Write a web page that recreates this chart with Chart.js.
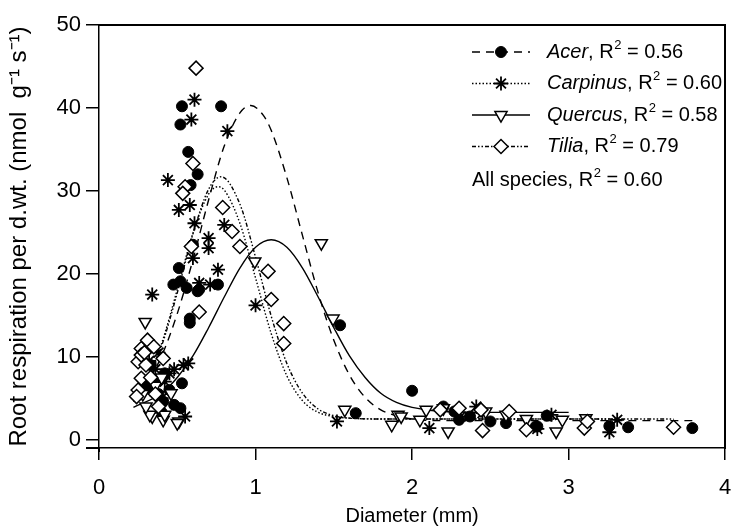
<!DOCTYPE html>
<html>
<head>
<meta charset="utf-8">
<script src="https://cdn.jsdelivr.net/npm/chart.js@4.4.0/dist/chart.umd.min.js"></script>
<style>
  html, body { margin: 0; padding: 0; background: #fff; }
  #wrap { position: relative; width: 734px; height: 531px; }
</style>
</head>
<body>
<div id="wrap"><canvas id="chart" width="734" height="531"></canvas></div>
<script>
// measured points [diameter mm, respiration]
const acerPts = [[0.53,40.2],[0.78,40.2],[0.52,38.0],[0.57,34.7],[0.63,32.0],[0.585,30.7],[0.60,23.5],[0.51,20.7],
  [0.475,18.7],[0.52,19.1],[0.56,18.3],[0.64,18.1],[0.63,17.9],[0.76,18.7],[0.58,14.6],[0.58,14.1],[0.53,6.8],
  [0.52,3.8],[0.41,4.6],[0.35,7.0],[0.38,5.5],[0.42,8.0],[0.45,6.0],[0.40,3.3],[0.48,4.2],[0.33,9.0],[0.30,6.5],
  [1.54,13.8],[2.0,5.9],[1.64,3.2],[2.2,4.0],[2.27,3.4],[2.30,2.4],[2.37,2.8],[2.5,2.2],[2.6,2.0],[2.79,1.6],
  [2.80,1.6],[2.86,2.9],[3.26,1.65],[3.38,1.5],[3.79,1.4]];
const carpinusPts = [[0.61,41.0],[0.59,38.6],[0.82,37.2],[0.44,31.3],[0.51,27.7],[0.58,28.3],[0.61,26.1],[0.80,25.9],
  [0.70,24.3],[0.70,23.1],[0.60,21.9],[0.76,20.5],[0.64,18.9],[0.71,18.7],[0.34,17.5],[1.0,16.2],[0.57,9.2],
  [0.54,9.0],[0.55,2.8],[0.30,11.0],[0.32,9.5],[0.36,8.5],[0.38,10.5],[0.42,7.0],[0.45,8.0],[0.48,8.5],[0.33,6.0],
  [0.40,5.0],[1.52,2.2],[2.11,1.4],[2.31,2.8],[2.41,4.0],[2.45,3.2],[2.80,1.3],[2.89,3.0],[3.26,0.9],[3.31,2.4]];
const quercusPts = [[0.295,14.2],[0.34,2.8],[0.41,2.4],[0.51,2.2],[0.46,5.6],[0.325,3.0],[0.42,3.0],[0.50,2.0],
  [0.28,5.5],[0.36,6.5],[0.40,7.5],[0.30,4.0],[0.995,21.5],[1.42,23.7],[1.495,14.6],[1.57,3.6],[1.91,3.0],
  [1.87,1.8],[2.09,3.6],[2.05,2.4],[2.23,1.0],[1.93,2.8],[2.47,3.4],[2.73,2.5],[2.92,1.0],[3.11,2.6],[2.96,2.4],
  [2.20,3.8],[2.60,3.0]];
const tiliaPts = [[0.62,44.8],[0.60,33.3],[0.55,30.5],[0.535,29.7],[0.79,28.0],[0.85,25.1],[0.90,23.3],[1.08,20.3],
  [1.10,16.9],[1.18,14.0],[1.18,11.6],[0.64,15.4],[0.59,23.3],[0.27,11.0],[0.25,9.4],[0.27,7.4],[0.25,6.0],
  [0.24,5.2],[0.27,10.2],[0.30,9.0],[0.33,7.5],[0.36,5.5],[0.38,4.0],[0.31,12.0],[0.29,10.5],[0.35,11.2],
  [0.41,9.8],[2.18,3.6],[2.30,3.8],[2.44,3.6],[2.45,1.1],[2.62,3.4],[2.73,1.2],[3.10,1.4],[3.12,2.2],[3.67,1.5]];

// fitted curves
const acerCurveX = [0.22,0.3,0.4,0.5,0.6,0.7,0.8,0.9,0.97,1.05,1.1,1.2,1.3,1.4,1.5,1.6,1.7,1.8,1.9,2.0,2.2,2.6,3.2,3.79];
const acerCurveY = [4.7,6.6,10.1,15.2,21.7,28.9,35.4,39.4,40.3,39.1,37.3,31.6,24.6,17.7,12.0,7.8,5.1,3.6,2.9,2.5,2.3,2.3,2.3,2.3];
const carpinusCurveX = [0.22,0.3,0.4,0.5,0.6,0.7,0.76,0.8,0.9,1.0,1.1,1.2,1.3,1.4,1.5,1.6,1.8,2.2,2.8,3.31];
const carpinusCurveY = [4.7,7.0,11.6,18.1,24.9,29.6,30.5,30.1,26.1,19.5,12.8,7.7,4.7,3.3,2.8,2.6,2.5,2.5,2.5,2.5];
const quercusCurveX = [0.22,0.4,0.5,0.6,0.7,0.8,0.9,1.0,1.1,1.2,1.3,1.4,1.5,1.6,1.7,1.8,1.9,2.0,2.2,2.5,3.0];
const quercusCurveY = [3.9,5.6,7.5,10.1,13.5,17.2,20.7,23.2,24.1,23.2,20.7,17.2,13.5,10.1,7.5,5.6,4.5,3.9,3.4,3.3,3.3];
const tiliaCurveX = [0.22,0.3,0.4,0.5,0.6,0.7,0.78,0.9,1.0,1.1,1.2,1.3,1.4,1.5,1.6,1.8,2.2,2.8,3.67];
const tiliaCurveY = [4.6,6.8,11.3,17.7,24.8,30.2,31.7,28.4,22.0,14.9,9.2,5.6,3.7,2.9,2.6,2.5,2.5,2.5,2.5];

const xTicks = [0, 1, 2, 3, 4];
const yTicks = [0, 10, 20, 30, 40, 50];
const speciesNames = ['Acer', 'Carpinus', 'Quercus', 'Tilia'];
const speciesR2 = ['0.56', '0.60', '0.58', '0.79'];
const allR2 = '0.60';

const FONT = "'Liberation Sans', Arial, Helvetica, sans-serif";

const toXY = (arr) => arr.map(([x, y]) => ({x, y}));
const zipXY = (xs, ys) => xs.map((x, i) => ({x, y: ys[i]}));

const styles = [
  {dash: [8, 6], point: {pointStyle: 'circle', radius: 5.5, rotation: 0, borderWidth: 1}, fill: '#000'},
  {dash: [1.5, 2], point: {pointStyle: 'star', radius: 7, rotation: 0, borderWidth: 1.8}, fill: '#000'},
  {dash: [], point: {pointStyle: 'triangle', radius: 7, rotation: 180, borderWidth: 1.5}, fill: '#fff'},
  {dash: [4, 2, 1.5, 2, 1.5, 2], point: {pointStyle: 'rectRot', radius: 7, rotation: 0, borderWidth: 1.5}, fill: '#fff'},
];

const pointSets = [acerPts, carpinusPts, quercusPts, tiliaPts];
const curveSets = [
  [acerCurveX, acerCurveY], [carpinusCurveX, carpinusCurveY],
  [quercusCurveX, quercusCurveY], [tiliaCurveX, tiliaCurveY],
];

const datasets = [];
curveSets.forEach(([xs, ys], i) => {
  datasets.push({
    data: zipXY(xs, ys),
    showLine: true,
    borderColor: '#000',
    borderWidth: 1.4,
    borderDash: styles[i].dash,
    cubicInterpolationMode: 'monotone',
    pointRadius: 0,
    order: 10,
  });
});
pointSets.forEach((pts, i) => {
  const s = styles[i];
  datasets.push({
    data: toXY(pts),
    showLine: false,
    pointStyle: s.point.pointStyle,
    pointRadius: s.point.radius,
    pointRotation: s.point.rotation,
    pointBorderWidth: s.point.borderWidth,
    pointBackgroundColor: s.fill,
    pointBorderColor: '#000',
    order: 5 - i,
  });
});

// box edges, axis overhangs and the legend in the upper right
const decorPlugin = {
  id: 'decor',
  afterDraw(chart) {
    const ctx = chart.ctx;
    const sx = chart.scales.x, sy = chart.scales.y;
    const L = Math.round(sx.getPixelForValue(0));
    const R = Math.round(sx.getPixelForValue(4));
    const T = Math.round(sy.getPixelForValue(50));
    const B = Math.round(sy.getPixelForValue(-1));
    ctx.save();
    ctx.fillStyle = '#000';
    ctx.fillRect(L - 1, T - 1, R - L + 2, 2);   // top edge
    ctx.fillRect(R - 1, T - 1, 2, B - T + 2);   // right edge
    ctx.fillRect(L - 13, B - 1, 13, 2);         // x axis runs past the corner
    ctx.fillRect(L - 1, B, 2, 4);               // y axis runs past the corner

    const lineL = 472, lineR = 530, textX = 547;
    ctx.strokeStyle = '#000';
    ctx.textBaseline = 'middle';

    const writeR2 = (x, y, val) => {
      ctx.font = `20px ${FONT}`;
      ctx.fillText('R', x, y);
      x += ctx.measureText('R').width;
      ctx.font = `13px ${FONT}`;
      ctx.fillText('2', x + 0.5, y - 7);
      x += ctx.measureText('2').width + 0.5;
      ctx.font = `20px ${FONT}`;
      ctx.fillText(' = ' + val, x, y);
    };

    speciesNames.forEach((name, i) => {
      const y = 52 + i * 31.5;
      const s = styles[i];
      ctx.lineWidth = 1.4;
      ctx.setLineDash(s.dash);
      ctx.beginPath();
      ctx.moveTo(lineL, y);
      ctx.lineTo(lineR, y);
      ctx.stroke();
      ctx.setLineDash([]);
      ctx.fillStyle = s.fill;
      ctx.lineWidth = s.point.borderWidth;
      Chart.helpers.drawPoint(ctx, s.point, (lineL + lineR) / 2, y);
      ctx.fillStyle = '#000';

      let x = textX;
      ctx.font = `italic 20px ${FONT}`;
      ctx.fillText(name, x, y);
      x += ctx.measureText(name).width;
      ctx.font = `20px ${FONT}`;
      ctx.fillText(', ', x, y);
      x += ctx.measureText(', ').width;
      writeR2(x, y, speciesR2[i]);
    });

    const yAll = 52 + 4 * 32;
    ctx.font = `20px ${FONT}`;
    const lead = 'All species, ';
    ctx.fillText(lead, lineL, yAll);
    writeR2(lineL + ctx.measureText(lead).width, yAll, allR2);
    ctx.restore();
  }
};

new Chart(document.getElementById('chart'), {
  type: 'scatter',
  data: {datasets},
  plugins: [decorPlugin],
  options: {
    responsive: false,
    animation: false,
    events: [],
    layout: {padding: {top: 25, right: 8, left: 0, bottom: 0}},
    plugins: {legend: {display: false}, tooltip: {enabled: false}},
    scales: {
      x: {
        type: 'linear',
        min: 0,
        max: 4,
        afterBuildTicks(s) { s.ticks = xTicks.map(v => ({value: v})); },
        ticks: {color: '#000', font: {family: FONT, size: 22}, padding: 15, maxRotation: 0},
        grid: {drawOnChartArea: false, drawTicks: true, tickLength: 12, color: '#000', lineWidth: 1.5},
        border: {display: true, color: '#000', width: 1.5},
        title: {display: true, text: 'Diameter (mm)', color: '#000', font: {family: FONT, size: 20}, padding: {top: 0, bottom: 3}},
        afterFit(s) { s.height = 83; s.paddingLeft = 0; s.paddingRight = 0; }
      },
      y: {
        min: -1,
        max: 50,
        afterBuildTicks(s) { s.ticks = yTicks.map(v => ({value: v})); },
        ticks: {color: '#000', font: {family: FONT, size: 22}, padding: 5},
        grid: {drawOnChartArea: false, drawTicks: true, tickLength: 13, color: '#000', lineWidth: 1.5},
        border: {display: true, color: '#000', width: 1.5},
        title: {display: true, text: 'Root respiration per d.wt. (nmol  g\u207B\u00B9 s\u207B\u00B9)', color: '#000',
          font: {family: FONT, size: 24}, padding: {top: 5, bottom: 0}},
        afterFit(s) { s.width = 99; s.paddingTop = 0; s.paddingBottom = 0; }
      }
    }
  }
});
</script>
</body>
</html>
